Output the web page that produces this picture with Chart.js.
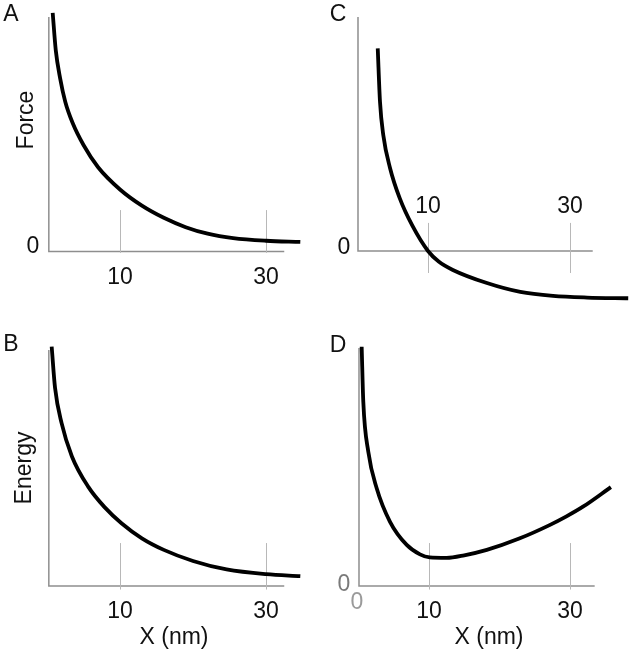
<!DOCTYPE html>
<html>
<head>
<meta charset="utf-8">
<script src="https://cdn.jsdelivr.net/npm/chart.js@4.4.0/dist/chart.umd.min.js"></script>
<style>
  html, body { margin: 0; background: #fff; }
  #wrap { position: relative; width: 633px; height: 653px; }
  #wrap canvas { position: absolute; left: 0; top: 0; }
</style>
</head>
<body>
<div id="wrap">
  <canvas id="pA" width="633" height="653"></canvas>
  <canvas id="pB" width="633" height="653"></canvas>
  <canvas id="pC" width="633" height="653"></canvas>
  <canvas id="pD" width="633" height="653"></canvas>
</div>
<script>
const xTicks = [10, 30];

// A: Force vs X
const forceX = [0.78, 1.2, 1.8, 2.5, 3.5, 5, 7, 10, 13, 16, 19, 22, 25.5, 30, 34.7];
const forceY = [102, 86, 74, 64, 55, 45.5, 36, 26.5, 19.6, 14.4, 10.4, 7.6, 5.7, 4.6, 4.1];

// B: Energy vs X
const energyX = [0.64, 1.1, 2.0, 3.4, 5.66, 7.95, 10.2, 13, 16, 20, 24.6, 30, 34.7];
const energyY = [101.4, 84, 69, 55, 42, 33.2, 26.6, 20.2, 15.3, 10.6, 7.0, 5.0, 4.2];

// C: net force, crosses zero at 10 nm
const netForceX = [2.92, 3.24, 3.7, 4.65, 6.0, 7.8, 10, 11.5, 13.5, 18.3, 23.0, 27.6, 32.4, 38.2];
const netForceY = [86.6, 63.7, 49.6, 35.5, 22.7, 10.8, 0, -4.5, -8.1, -13.7, -17.5, -19.2, -19.9, -20.2];

// D: net energy, minimum near 10 nm
const netEnergyX = [0.45, 0.68, 1.39, 2.58, 4.47, 6.84, 8.72, 10.1, 12.5, 15, 18.2, 22.8, 27.1, 29.5, 31.9, 35.8];
const netEnergyY = [101.4, 78.1, 56.9, 41.4, 27.2, 17.4, 13.4, 12.1, 11.9, 13.0, 15.3, 20.1, 25.8, 29.5, 33.7, 41.9];

const W = 633, H = 653;
const FONT = '"Liberation Sans", Arial, sans-serif';

const decor = {
  id: 'decor',
  beforeDatasetsDraw(chart, args, o) {
    const { ctx } = chart;
    const x = chart.scales.x, y = chart.scales.y;
    ctx.save();
    // axes
    ctx.strokeStyle = '#8e8e8e';
    ctx.lineWidth = 1.5;
    ctx.beginPath();
    ctx.moveTo(x.getPixelForValue(o.yAxisAt), y.getPixelForValue(o.yAxisTop));
    ctx.lineTo(x.getPixelForValue(o.yAxisAt), y.getPixelForValue(0));
    ctx.lineTo(x.getPixelForValue(o.xAxisEnd), y.getPixelForValue(0));
    ctx.stroke();
    // tick marks
    ctx.strokeStyle = '#b8b8b8';
    ctx.lineWidth = 1;
    xTicks.forEach(t => {
      const px = Math.round(x.getPixelForValue(t)) + 0.5;
      ctx.beginPath();
      ctx.moveTo(px, y.getPixelForValue(o.tickFrom));
      ctx.lineTo(px, y.getPixelForValue(o.tickTo));
      ctx.stroke();
    });
    ctx.restore();
  },
  afterDraw(chart, args, o) {
    const { ctx } = chart;
    const x = chart.scales.x, y = chart.scales.y;
    const x0 = x.getPixelForValue(0), y0 = y.getPixelForValue(0);
    ctx.save();
    ctx.textAlign = 'center';
    ctx.textBaseline = 'middle';
    ctx.fillStyle = '#111';
    ctx.font = '23px ' + FONT;
    xTicks.forEach(t => ctx.fillText(String(t), x.getPixelForValue(t), y0 + o.labelDy));
    (o.zeros || []).forEach(z => {
      ctx.fillStyle = z.color;
      ctx.fillText('0', x0 + z.dx, y0 + z.dy);
    });
    ctx.fillStyle = '#111';
    ctx.fillText(o.letter, o.letterPos[0], o.letterPos[1]);
    if (o.xTitle) ctx.fillText(o.xTitle, o.xTitlePos[0], o.xTitlePos[1]);
    if (o.yTitle) {
      ctx.translate(o.yTitlePos[0], o.yTitlePos[1]);
      ctx.rotate(-Math.PI / 2);
      ctx.fillText(o.yTitle, 0, 0);
    }
    ctx.restore();
  }
};

function makePanel(id, xs, ys, g, d) {
  const pad = {
    left: g.ox + g.xMin * g.sx,
    right: W - (g.ox + g.xMax * g.sx),
    top: g.oy - g.yMax * g.sy,
    bottom: H - (g.oy - g.yMin * g.sy)
  };
  new Chart(document.getElementById(id), {
    type: 'line',
    data: {
      datasets: [{
        data: xs.map((v, i) => ({ x: v, y: ys[i] })),
        borderColor: '#000',
        borderWidth: 3.8,
        pointRadius: 0,
        fill: false,
        cubicInterpolationMode: 'monotone',
        clip: false
      }]
    },
    options: {
      responsive: false,
      animation: false,
      layout: { padding: pad },
      plugins: { legend: { display: false }, tooltip: { enabled: false }, decor: d },
      scales: {
        x: { type: 'linear', min: g.xMin, max: g.xMax, display: false },
        y: { type: 'linear', min: g.yMin, max: g.yMax, display: false }
      }
    },
    plugins: [decor]
  });
}

makePanel('pA', forceX, forceY,
  { ox: 47, oy: 251.5, sx: 7.3, sy: 2.34, xMin: 0, xMax: 35.5, yMin: -2, yMax: 104 },
  { yAxisAt: 0.25, yAxisTop: 100.2, xAxisEnd: 32.5, tickFrom: -0.6, tickTo: 17.7, labelDy: 26.5,
    zeros: [{ dx: -14, dy: -4.5, color: '#111' }],
    letter: 'A', letterPos: [11, 15], yTitle: 'Force', yTitlePos: [27, 120] });

makePanel('pB', energyX, energyY,
  { ox: 47, oy: 586, sx: 7.3, sy: 2.36, xMin: 0, xMax: 35.5, yMin: -2, yMax: 104 },
  { yAxisAt: 0.25, yAxisTop: 100, xAxisEnd: 32.5, tickFrom: -1.5, tickTo: 18.2, labelDy: 26,
    letter: 'B', letterPos: [11, 345], yTitle: 'Energy', yTitlePos: [25, 468],
    xTitle: 'X (nm)', xTitlePos: [174, 638] });

makePanel('pC', netForceX, netForceY,
  { ox: 357, oy: 251, sx: 7.1, sy: 2.34, xMin: 0, xMax: 38.5, yMin: -25, yMax: 104 },
  { yAxisAt: 0.14, yAxisTop: 100, xAxisEnd: 33.2, tickFrom: -9.4, tickTo: 12, labelDy: -44,
    zeros: [{ dx: -13, dy: -3, color: '#111' }],
    letter: 'C', letterPos: [338, 15] });

makePanel('pD', netEnergyX, netEnergyY,
  { ox: 358.5, oy: 586, sx: 7.05, sy: 2.36, xMin: 0, xMax: 38, yMin: -2, yMax: 104 },
  { yAxisAt: 0.07, yAxisTop: 100.8, xAxisEnd: 33.5, tickFrom: -1.5, tickTo: 18.2, labelDy: 26,
    zeros: [{ dx: -14.5, dy: -1, color: '#7a7a7a' }, { dx: -1.5, dy: 17, color: '#9a9a9a' }],
    letter: 'D', letterPos: [338, 346], xTitle: 'X (nm)', xTitlePos: [489, 638] });
</script>
</body>
</html>
